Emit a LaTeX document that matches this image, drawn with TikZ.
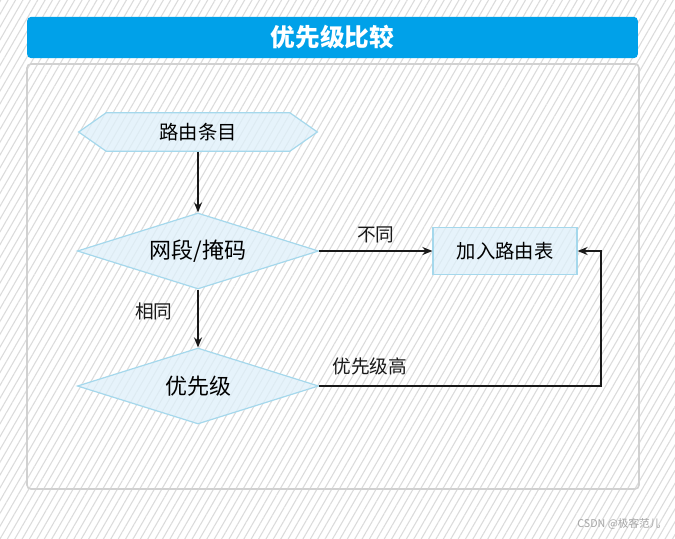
\documentclass[tikz,border=0pt]{standalone}
\usepackage{fontspec}
\setmainfont{Noto Sans CJK SC}
\usetikzlibrary{arrows.meta,positioning,shapes.geometric,shapes.symbols,patterns.meta}

\definecolor{titleblue}{RGB}{0,161,233}
\definecolor{boxline}{RGB}{165,216,236}
\definecolor{boxfill}{RGB}{222,240,250}

\tikzset{
	entry/.style={shape=signal,signal to=west and east,signal pointer angle=70,draw=boxline,fill=boxfill,fill opacity=.75,text opacity=1,line width=.9pt,minimum width=179pt,minimum height=29pt,inner sep=0pt,font=\fontsize{14.5}{16}\selectfont},
	check/.style={shape=diamond,aspect=3.2,draw=boxline,fill=boxfill,fill opacity=.75,text opacity=1,line width=.9pt,minimum width=181pt,minimum height=57pt,inner sep=0pt,font=\fontsize{16.5}{18}\selectfont},
	tablebox/.style={shape=rectangle,draw=boxline,fill=boxfill,fill opacity=.75,text opacity=1,line width=.9pt,minimum width=108pt,minimum height=35pt,font=\fontsize{14.5}{16}\selectfont},
	titlebar/.style={shape=rectangle,fill=titleblue,rounded corners=3pt,minimum width=458pt,minimum height=31pt,text=white,font=\fontsize{18.5}{20}\selectfont\bfseries},
	flow/.style={draw=black!90,line width=1.4pt},
	lbl/.style={font=\fontsize{14}{16}\selectfont,text=black!90}
}

\begin{document}
\begin{tikzpicture}[x=0.75pt,y=-0.75pt,>={Stealth[length=7.5pt,width=6pt]},auto,every edge/.style=flow]
	\useasboundingbox (0,0) rectangle (675,539);
	% background and panel
	\fill[white] (0,0) rectangle (675,539);
	\fill[pattern={Lines[angle=60,distance=4.8pt,line width=.8pt]},pattern color=black!14] (0,0) rectangle (675,539);
	\draw[black!18,line width=1.2pt,rounded corners=3pt] (27,64) rectangle (639,489);

	\node (title) [titlebar] at (332.5,37.5) {优先级比较};

	\node (route) [entry] at (198,132) {路由条目};
	\node (mask) [check] at (198,251) {网段/掩码};
	\node (prio) [check] at (198,386) {优先级};
	\node (addtable) [tablebox] at (505,251) {加入路由表};
	\coordinate (turn) at (601,386);

	\path[->] (route.south) edge (mask.north);
	\path[->] (mask) edge node [lbl,above=2pt] {不同} (addtable);
	\path[->] (mask) edge node [lbl,left=15pt,pos=.38] {相同} (prio);
	\draw[->,flow] (prio.east) -- node [lbl,above=4pt,pos=.18] {优先级高} (turn) |- (addtable.east);

	\node (mark) [text=black!35,font=\fontsize{8}{9}\selectfont] at (619,524) {CSDN @极客范儿};
\end{tikzpicture}
\end{document}
